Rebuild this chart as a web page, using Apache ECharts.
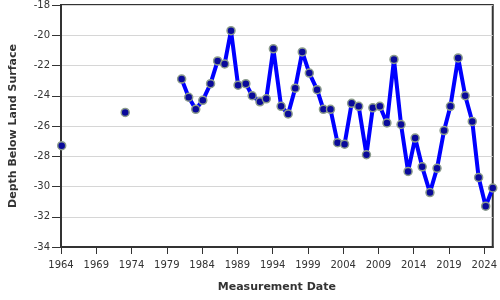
<!DOCTYPE html>
<html>
<head>
<meta charset="utf-8">
<script src="https://cdn.jsdelivr.net/npm/echarts@6/dist/echarts.min.js"></script>
<style>html,body{margin:0;padding:0;background:#fff}#c{width:500px;height:300px}</style>
</head>
<body>
<div id="c"></div>
<script>
// Measurement dates (decimal years) and depths below land surface
var dates = [1964.1, 1973.1, 1981.1, 1982.1, 1983.1, 1984.1, 1985.2, 1986.2, 1987.2, 1988.1,
  1989.1, 1990.2, 1991.1, 1992.2, 1993.1, 1994.1, 1995.2, 1996.2, 1997.2, 1998.2,
  1999.2, 2000.3, 2001.2, 2002.2, 2003.2, 2004.2, 2005.2, 2006.2, 2007.3, 2008.2,
  2009.2, 2010.2, 2011.2, 2012.2, 2013.2, 2014.2, 2015.2, 2016.3, 2017.3, 2018.3,
  2019.2, 2020.3, 2021.3, 2022.3, 2023.2, 2024.2, 2025.2];
var depths = [-27.3, -25.1, -22.9, -24.1, -24.9, -24.3, -23.2, -21.7, -21.9, -19.7,
  -23.3, -23.2, -24.0, -24.4, -24.2, -20.9, -24.7, -25.2, -23.5, -21.1,
  -22.5, -23.6, -24.9, -24.9, -27.1, -27.2, -24.5, -24.7, -27.9, -24.8,
  -24.7, -25.8, -21.6, -25.9, -29.0, -26.8, -28.7, -30.4, -28.8, -26.3,
  -24.7, -21.5, -24.0, -25.7, -29.4, -31.3, -30.1];
var xTickLabels = [1964, 1969, 1974, 1979, 1984, 1989, 1994, 1999, 2004, 2009, 2014, 2019, 2024];
var yMin = -34, yMax = -18, yStep = 2;

// break the line where measurements are more than 2 years apart
var seriesData = [];
for (var i = 0; i < dates.length; i++) {
  if (i > 0 && dates[i] - dates[i - 1] > 2) {
    seriesData.push([(dates[i] + dates[i - 1]) / 2, '-']);
  }
  seriesData.push([dates[i], depths[i]]);
}

var font = 'DejaVu Sans';
var chart = echarts.init(document.getElementById('c'), null, {renderer: 'canvas'});
chart.setOption({
  animation: false,
  grid: {left: 61, right: 5, top: 4, bottom: 53, show: true, borderColor: '#333', borderWidth: 2, backgroundColor: 'transparent'},
  xAxis: {
    type: 'value',
    min: xTickLabels[0],
    max: dates[dates.length - 1],
    name: 'Measurement Date',
    nameLocation: 'middle',
    nameGap: 35,
    nameTextStyle: {fontFamily: font, fontSize: 11, fontWeight: 'bold', color: '#333'},
    axisLine: {show: true, lineStyle: {color: '#333', width: 2}},
    axisTick: {show: true, length: 7, lineStyle: {color: '#333'}, customValues: xTickLabels},
    axisLabel: {fontFamily: font, fontSize: 10, color: '#333', margin: 13, customValues: xTickLabels,
      formatter: function (v) { return String(v); }},
    splitLine: {show: false}
  },
  yAxis: {
    type: 'value',
    min: yMin, max: yMax, interval: yStep,
    name: 'Depth Below Land Surface',
    nameLocation: 'middle',
    nameGap: 42,
    nameTextStyle: {fontFamily: font, fontSize: 11, fontWeight: 'bold', color: '#333'},
    axisLine: {show: true, lineStyle: {color: '#333', width: 2}},
    axisTick: {show: true, length: 9, lineStyle: {color: '#333'}},
    axisLabel: {fontFamily: font, fontSize: 10, color: '#333', margin: 11},
    splitLine: {show: true, lineStyle: {color: '#d6d6d6', width: 1}}
  },
  series: [{
    type: 'line',
    data: seriesData,
    connectNulls: false,
    symbol: 'circle',
    symbolSize: 8,
    showAllSymbol: true,
    lineStyle: {color: '#0000ff', width: 4},
    itemStyle: {color: '#0a0a9a', borderColor: '#8c9c8c', borderWidth: 1.5},
    emphasis: {disabled: true}
  }]
});
</script>
</body>
</html>
